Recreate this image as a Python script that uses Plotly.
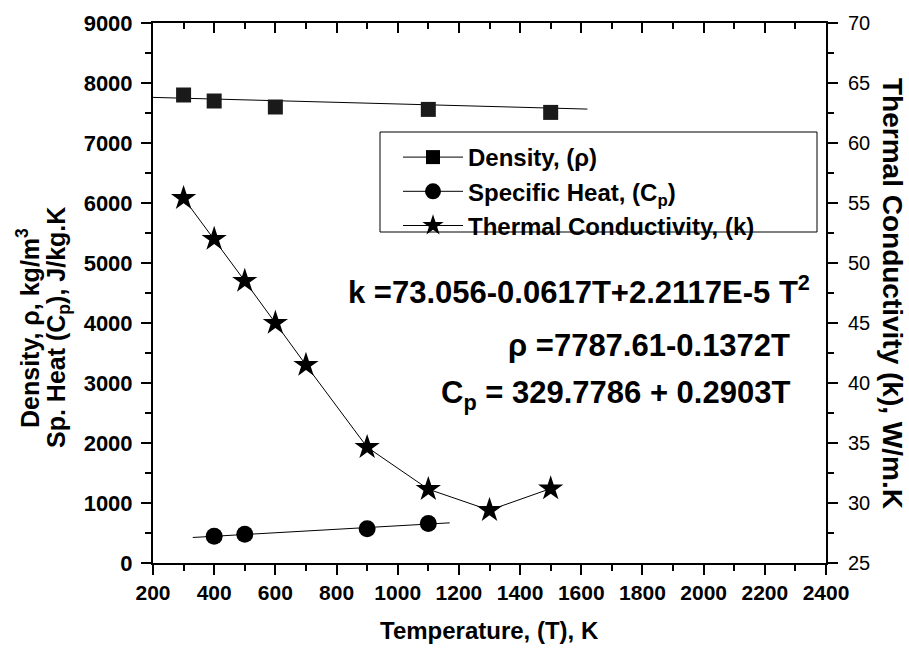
import plotly.graph_objects as go

# ---- data ----
T_rho = [300, 400, 600, 1100, 1500]
rho = [7800, 7700, 7600, 7560, 7510]

T_cp = [400, 500, 900, 1100]
cp = [445, 480, 570, 660]

T_k = [300, 400, 500, 600, 700, 900, 1100, 1300, 1500]
k = [55.4, 52.0, 48.5, 45.0, 41.5, 34.65, 31.15, 29.4, 31.2]

rho_fit_T = [200, 1620]
cp_fit_T = [330, 1170]
rho_coef = [7787.61, -0.1372]
cp_coef = [329.7786, 0.2903]

x_ticks = [200, 400, 600, 800, 1000, 1200, 1400, 1600, 1800, 2000, 2200, 2400]
y_ticks = [0, 1000, 2000, 3000, 4000, 5000, 6000, 7000, 8000, 9000]
y2_ticks = [25, 30, 35, 40, 45, 50, 55, 60, 65, 70]

FONT = "Liberation Sans"
W, H = 909, 650
L, R, TOP, BOT = 153, 826, 23, 563

def px(xp):
    return (xp - L) / (R - L)

def py(yp):
    return (BOT - yp) / (BOT - TOP)

fig = go.Figure()

# fit lines
fig.add_trace(go.Scatter(x=rho_fit_T, y=[rho_coef[0] + rho_coef[1] * t for t in rho_fit_T],
                         mode="lines", line=dict(color="black", width=1), showlegend=False))
fig.add_trace(go.Scatter(x=cp_fit_T, y=[cp_coef[0] + cp_coef[1] * t for t in cp_fit_T],
                         mode="lines", line=dict(color="black", width=1), showlegend=False))

# markers
fig.add_trace(go.Scatter(x=T_rho, y=rho, mode="markers",
                         marker=dict(symbol="square", size=15, color="#1a1a1a"), showlegend=False))
fig.add_trace(go.Scatter(x=T_cp, y=cp, mode="markers",
                         marker=dict(symbol="circle", size=17, color="black"), showlegend=False))
fig.add_trace(go.Scatter(x=T_k, y=k, mode="lines+markers", yaxis="y2",
                         line=dict(color="black", width=1),
                         marker=dict(symbol="star", size=19, color="black"), showlegend=False))

# legend entries
fig.add_trace(go.Scatter(x=[None], y=[None], mode="lines+markers", name="<b>Density, (ρ)</b>",
                         line=dict(color="black", width=1),
                         marker=dict(symbol="square", size=14, color="black")))
fig.add_trace(go.Scatter(x=[None], y=[None], mode="lines+markers", name="<b>Specific Heat, (C<sub>p</sub>)</b>",
                         line=dict(color="black", width=1),
                         marker=dict(symbol="circle", size=17, color="black")))
fig.add_trace(go.Scatter(x=[None], y=[None], mode="lines+markers", name="<b>Thermal Conductivity, (k)</b>",
                         line=dict(color="black", width=1),
                         marker=dict(symbol="star", size=16, color="black")))

# dummy trace for top axis
fig.add_trace(go.Scatter(x=[None], y=[None], xaxis="x2", showlegend=False))

axis_common = dict(showline=True, linecolor="black", linewidth=2, showgrid=False, zeroline=False,
                   ticklen=10, tickwidth=2, tickcolor="black")
minor_out = dict(ticks="outside", ticklen=6, tickwidth=2, tickcolor="black")
minor_in = dict(ticks="inside", ticklen=6, tickwidth=2, tickcolor="black")

fig.update_layout(
    width=W, height=H,
    margin=dict(l=L, r=W - R, t=TOP, b=H - BOT),
    paper_bgcolor="white", plot_bgcolor="white",
    font=dict(family=FONT, color="black"),
    xaxis=dict(range=[200, 2400], tickmode="array", tickvals=x_ticks,
               ticktext=[f"<b>{v}</b>" for v in x_ticks], ticks="outside",
               tickfont=dict(size=21, family=FONT, weight="bold", color="black"),
               minor=dict(dtick=100, **minor_out), **axis_common),
    xaxis2=dict(range=[200, 2400], overlaying="x", side="top", tickvals=x_ticks, ticks="inside",
                showticklabels=False, minor=dict(dtick=100, **minor_in), **axis_common),
    yaxis=dict(range=[0, 9000], tickmode="array", tickvals=y_ticks,
               ticktext=[f"<b>{v}</b>" for v in y_ticks], ticks="outside",
               tickfont=dict(size=22, family=FONT, weight="bold", color="black"), ticklabelstandoff=4,
               minor=dict(dtick=500, **minor_out), **axis_common),
    yaxis2=dict(range=[25, 70], overlaying="y", side="right", tickmode="array", tickvals=y2_ticks,
                ticktext=[str(v) for v in y2_ticks], ticks="outside",
                tickfont=dict(size=20, family=FONT, color="black"), ticklabelstandoff=6,
                minor=dict(dtick=2.5, **minor_out), **axis_common),
    legend=dict(x=px(398), y=py(135), xanchor="left", yanchor="top",
                borderwidth=0, bgcolor="rgba(255,255,255,0)",
                font=dict(size=24, family=FONT), tracegroupgap=0,
                itemwidth=60),
    shapes=[dict(type="rect", xref="paper", yref="paper", x0=px(380), x1=px(817), y0=py(232), y1=py(132),
                 line=dict(color="black", width=1))],
)

ann = []
def a(text, x, y, size, angle=0, xanchor="center"):
    ann.append(dict(text=text, x=px(x), y=py(y), xref="paper", yref="paper", showarrow=False,
                    textangle=angle, xanchor=xanchor, yanchor="middle", font=dict(size=size)))

a("<b>Temperature, (T), K</b>", 489, 630, 24)
a("<b>Density, ρ, kg/m<sup>3</sup></b>", 28, 328, 25, -90)
a("<b>Sp. Heat (C<sub>p</sub>), J/kg.K</b>", 58, 328, 25, -90)
a("<b>Thermal Conductivity (k), W/m.K</b>", 893, 293, 28, 90)
a("<b>k =73.056-0.0617T+2.2117E-5 T<sup>2</sup></b>", 812, 290, 31, xanchor="right")
a("<b>ρ =7787.61-0.1372T</b>", 792, 345, 31, xanchor="right")
a("<b>C<sub>p</sub> = 329.7786 + 0.2903T</b>", 792, 395, 31, xanchor="right")
fig.update_layout(annotations=ann)

fig.write_html("out.html")
